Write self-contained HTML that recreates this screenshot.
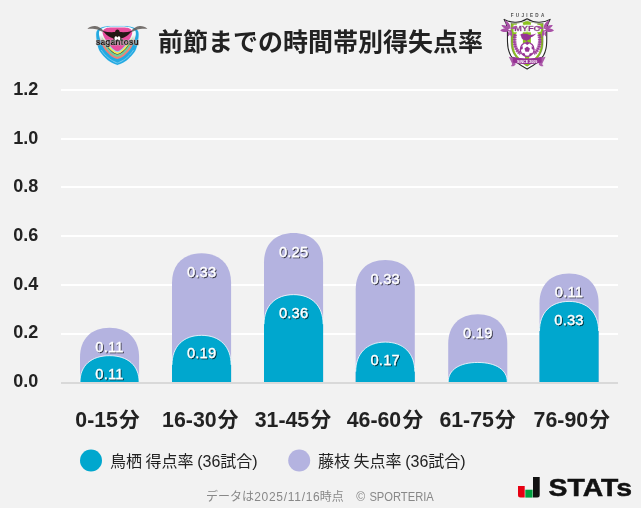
<!DOCTYPE html>
<html lang="ja"><head><meta charset="utf-8"><title>前節までの時間帯別得失点率</title>
<style>html,body{margin:0;padding:0;background:#f2f2f2;}body{width:641px;height:508px;overflow:hidden;font-family:"Liberation Sans", "Noto Sans CJK JP", sans-serif;}svg{display:block;}text{font-family:"Liberation Sans", "Noto Sans CJK JP", sans-serif;}
.ax{font-weight:700;font-size:18px;fill:#222;}.cat{font-weight:700;font-size:21.3px;fill:#222;}.dl{font-weight:400;font-size:14.6px;letter-spacing:0.25px;fill:#fff;stroke:#fff;stroke-width:0.28px;text-anchor:middle;}
.ttl{font-weight:700;font-size:25px;fill:#222;}.lg{font-size:16px;fill:#222;word-spacing:-0.85px;}.ft{font-size:12px;fill:#888;}
</style></head><body>
<svg width="641" height="508" viewBox="0 0 641 508">
<defs><filter id="sh" x="-20%" y="-20%" width="140%" height="150%"><feDropShadow dx="1" dy="1" stdDeviation="0.55" flood-color="#000" flood-opacity="0.7"/></filter>
<clipPath id="cp"><rect x="0" y="0" width="641" height="382"/></clipPath></defs>
<rect width="641" height="508" fill="#f2f2f2"/>
<rect x="61" y="333" width="557" height="2" fill="#fff"/>
<rect x="61" y="284" width="557" height="2" fill="#fff"/>
<rect x="61" y="235" width="557" height="2" fill="#fff"/>
<rect x="61" y="186" width="557" height="2" fill="#fff"/>
<rect x="61" y="138" width="557" height="2" fill="#fff"/>
<rect x="61" y="89" width="557" height="2" fill="#fff"/>
<rect x="61" y="382" width="557" height="2" fill="#d9d9d9"/>
<text class="ax" x="13.2" y="386.9">0.0</text>
<text class="ax" x="13.2" y="338.3">0.2</text>
<text class="ax" x="13.2" y="289.7">0.4</text>
<text class="ax" x="13.2" y="241.1">0.6</text>
<text class="ax" x="13.2" y="192.4">0.8</text>
<text class="ax" x="13.2" y="143.8">1.0</text>
<text class="ax" x="13.2" y="95.2">1.2</text>
<g clip-path="url(#cp)">
<path d="M80.00 390 V357.41 C80.00 339.08 91.23 327.86 109.55 327.86 C127.87 327.86 139.10 339.08 139.10 357.41 V390 Z" fill="#b4b3e0"/>
<path d="M80.00 390 V382.00 C80.00 365.68 91.23 355.68 109.55 355.68 C127.87 355.68 139.10 365.68 139.10 382.00 V390 Z" fill="#00a7ce"/>
<path d="M80.00 382.00 C80.00 365.68 91.23 355.68 109.55 355.68 C127.87 355.68 139.10 365.68 139.10 382.00" fill="none" stroke="#fff" stroke-opacity="0.8" stroke-width="1"/>
<path d="M172.00 390 V282.82 C172.00 264.50 183.23 253.27 201.55 253.27 C219.87 253.27 231.10 264.50 231.10 282.82 V390 Z" fill="#b4b3e0"/>
<path d="M172.00 390 V364.89 C172.00 346.57 183.23 335.34 201.55 335.34 C219.87 335.34 231.10 346.57 231.10 364.89 V390 Z" fill="#00a7ce"/>
<path d="M172.00 364.89 C172.00 346.57 183.23 335.34 201.55 335.34 C219.87 335.34 231.10 346.57 231.10 364.89" fill="none" stroke="#fff" stroke-opacity="0.8" stroke-width="1"/>
<path d="M264.00 390 V262.48 C264.00 244.16 275.23 232.93 293.55 232.93 C311.87 232.93 323.10 244.16 323.10 262.48 V390 Z" fill="#b4b3e0"/>
<path d="M264.00 390 V324.20 C264.00 305.88 275.23 294.65 293.55 294.65 C311.87 294.65 323.10 305.88 323.10 324.20 V390 Z" fill="#00a7ce"/>
<path d="M264.00 324.20 C264.00 305.88 275.23 294.65 293.55 294.65 C311.87 294.65 323.10 305.88 323.10 324.20" fill="none" stroke="#fff" stroke-opacity="0.8" stroke-width="1"/>
<path d="M355.70 390 V289.60 C355.70 271.28 366.93 260.05 385.25 260.05 C403.57 260.05 414.80 271.28 414.80 289.60 V390 Z" fill="#b4b3e0"/>
<path d="M355.70 390 V371.67 C355.70 353.35 366.93 342.12 385.25 342.12 C403.57 342.12 414.80 353.35 414.80 371.67 V390 Z" fill="#00a7ce"/>
<path d="M355.70 371.67 C355.70 353.35 366.93 342.12 385.25 342.12 C403.57 342.12 414.80 353.35 414.80 371.67" fill="none" stroke="#fff" stroke-opacity="0.8" stroke-width="1"/>
<path d="M448.20 390 V343.84 C448.20 325.52 459.43 314.29 477.75 314.29 C496.07 314.29 507.30 325.52 507.30 343.84 V390 Z" fill="#b4b3e0"/>
<path d="M448.20 390 V382.00 C448.20 369.88 459.43 362.46 477.75 362.46 C496.07 362.46 507.30 369.88 507.30 382.00 V390 Z" fill="#00a7ce"/>
<path d="M448.20 382.00 C448.20 369.88 459.43 362.46 477.75 362.46 C496.07 362.46 507.30 369.88 507.30 382.00" fill="none" stroke="#fff" stroke-opacity="0.8" stroke-width="1"/>
<path d="M539.50 390 V303.16 C539.50 284.84 550.73 273.61 569.05 273.61 C587.37 273.61 598.60 284.84 598.60 303.16 V390 Z" fill="#b4b3e0"/>
<path d="M539.50 390 V330.98 C539.50 312.66 550.73 301.43 569.05 301.43 C587.37 301.43 598.60 312.66 598.60 330.98 V390 Z" fill="#00a7ce"/>
<path d="M539.50 330.98 C539.50 312.66 550.73 301.43 569.05 301.43 C587.37 301.43 598.60 312.66 598.60 330.98" fill="none" stroke="#fff" stroke-opacity="0.8" stroke-width="1"/>
</g>
<g filter="url(#sh)">
<text class="dl" x="109.5" y="351.7">0.11</text>
<text class="dl" x="109.5" y="378.8">0.11</text>
<text class="dl" x="201.6" y="277.1">0.33</text>
<text class="dl" x="201.6" y="358.4">0.19</text>
<text class="dl" x="293.6" y="256.7">0.25</text>
<text class="dl" x="293.6" y="317.8">0.36</text>
<text class="dl" x="385.2" y="283.9">0.33</text>
<text class="dl" x="385.2" y="365.2">0.17</text>
<text class="dl" x="477.8" y="338.1">0.19</text>
<text class="dl" x="569.0" y="297.4">0.11</text>
<text class="dl" x="569.0" y="324.5">0.33</text>
</g>
<text class="cat" x="75.30" y="427.4"><tspan style="font-size:22.3px" textLength="42.6" lengthAdjust="spacingAndGlyphs">0-15</tspan><tspan style="font-size:20.7px" dx="1.2">分</tspan></text>
<text class="cat" x="162.10" y="427.4"><tspan style="font-size:22.3px" textLength="54.5" lengthAdjust="spacingAndGlyphs">16-30</tspan><tspan style="font-size:20.7px" dx="1.2">分</tspan></text>
<text class="cat" x="254.70" y="427.4"><tspan style="font-size:22.3px" textLength="54.5" lengthAdjust="spacingAndGlyphs">31-45</tspan><tspan style="font-size:20.7px" dx="1.2">分</tspan></text>
<text class="cat" x="346.70" y="427.4"><tspan style="font-size:22.3px" textLength="54.5" lengthAdjust="spacingAndGlyphs">46-60</tspan><tspan style="font-size:20.7px" dx="1.2">分</tspan></text>
<text class="cat" x="439.40" y="427.4"><tspan style="font-size:22.3px" textLength="54.5" lengthAdjust="spacingAndGlyphs">61-75</tspan><tspan style="font-size:20.7px" dx="1.2">分</tspan></text>
<text class="cat" x="533.60" y="427.4"><tspan style="font-size:22.3px" textLength="54.5" lengthAdjust="spacingAndGlyphs">76-90</tspan><tspan style="font-size:20.7px" dx="1.2">分</tspan></text>
<text class="ttl" x="320.5" y="51" text-anchor="middle">前節までの時間帯別得失点率</text>
<circle cx="91" cy="460.5" r="11" fill="#00a7ce"/>
<text class="lg" x="110" y="467">鳥栖 得点率 (36試合)</text>
<circle cx="299.2" cy="460.5" r="11" fill="#b4b3e0"/>
<text class="lg" x="318" y="467">藤枝 失点率 (36試合)</text>
<text class="ft" y="501.3"><tspan x="206">データは</tspan><tspan x="254.2" textLength="65.6" lengthAdjust="spacing">2025/11/16</tspan><tspan x="319.8">時点</tspan><tspan x="343.8">　</tspan><tspan x="356.2">©</tspan><tspan x="369.4" textLength="64.4" lengthAdjust="spacingAndGlyphs">SPORTERIA</tspan></text>
<g id="tosu">
<defs><filter id="thalo" x="-5%" y="-30%" width="110%" height="160%"><feMorphology in="SourceAlpha" operator="dilate" radius="0.4" result="d"/><feFlood flood-color="#fff"/><feComposite in2="d" operator="in" result="h"/><feMerge><feMergeNode in="h"/><feMergeNode in="SourceGraphic"/></feMerge></filter><linearGradient id="tg1" gradientUnits="userSpaceOnUse" x1="0" y1="35" x2="0" y2="45"><stop offset="0" stop-color="#f4fafd"/><stop offset="1" stop-color="#f07f78"/></linearGradient><linearGradient id="tg2" gradientUnits="userSpaceOnUse" x1="0" y1="35" x2="0" y2="45"><stop offset="0" stop-color="#f4fafd"/><stop offset="1" stop-color="#6ccf9e"/></linearGradient><linearGradient id="tg3" gradientUnits="userSpaceOnUse" x1="0" y1="35" x2="0" y2="45"><stop offset="0" stop-color="#f4fafd"/><stop offset="1" stop-color="#4a3a30"/></linearGradient><linearGradient id="tg4" gradientUnits="userSpaceOnUse" x1="0" y1="35" x2="0" y2="45"><stop offset="0" stop-color="#f4fafd"/><stop offset="1" stop-color="#f6ec52"/></linearGradient><linearGradient id="tg5" gradientUnits="userSpaceOnUse" x1="0" y1="35" x2="0" y2="45"><stop offset="0" stop-color="#f4fafd"/><stop offset="1" stop-color="#8fd6f4"/></linearGradient></defs>
<path d="M117.40 26.00 C114.27 26.00 110.73 26.00 108.00 26.30 C105.27 26.60 102.80 27.10 101.00 27.80 C99.20 28.50 98.00 29.38 97.20 30.50 C96.40 31.62 96.28 32.92 96.20 34.50 C96.12 36.08 96.43 38.08 96.70 40.00 C96.97 41.92 97.20 44.00 97.80 46.00 C98.40 48.00 98.83 49.82 100.30 52.00 C101.77 54.18 104.73 57.33 106.60 59.10 C108.47 60.87 109.70 61.62 111.50 62.60 C113.30 63.58 116.42 64.60 117.40 65.00 C118.38 64.60 121.50 63.58 123.30 62.60 C125.10 61.62 126.33 60.87 128.20 59.10 C130.07 57.33 133.03 54.18 134.50 52.00 C135.97 49.82 136.40 48.00 137.00 46.00 C137.60 44.00 137.83 41.92 138.10 40.00 C138.37 38.08 138.68 36.08 138.60 34.50 C138.52 32.92 138.40 31.62 137.60 30.50 C136.80 29.38 135.60 28.50 133.80 27.80 C132.00 27.10 129.53 26.60 126.80 26.30 C124.07 26.00 120.53 26.00 117.40 26.00 Z" fill="#cfeaf8" stroke="#cfeaf8" stroke-width="0.8"/>
<path d="M117.40 26.00 C114.27 26.00 110.73 26.00 108.00 26.30 C105.27 26.60 102.80 27.10 101.00 27.80 C99.20 28.50 98.00 29.38 97.20 30.50 C96.40 31.62 96.28 32.92 96.20 34.50 C96.12 36.08 96.43 38.08 96.70 40.00 C96.97 41.92 97.20 44.00 97.80 46.00 C98.40 48.00 98.83 49.82 100.30 52.00 C101.77 54.18 104.73 57.33 106.60 59.10 C108.47 60.87 109.70 61.62 111.50 62.60 C113.30 63.58 116.42 64.60 117.40 65.00 C118.38 64.60 121.50 63.58 123.30 62.60 C125.10 61.62 126.33 60.87 128.20 59.10 C130.07 57.33 133.03 54.18 134.50 52.00 C135.97 49.82 136.40 48.00 137.00 46.00 C137.60 44.00 137.83 41.92 138.10 40.00 C138.37 38.08 138.68 36.08 138.60 34.50 C138.52 32.92 138.40 31.62 137.60 30.50 C136.80 29.38 135.60 28.50 133.80 27.80 C132.00 27.10 129.53 26.60 126.80 26.30 C124.07 26.00 120.53 26.00 117.40 26.00 Z" fill="#23a9e1"/>
<path d="M117.40 26.60 C114.55 26.60 111.27 26.62 108.86 26.86 C106.45 27.10 104.45 27.47 102.94 28.06 C101.42 28.64 100.44 29.40 99.78 30.37 C99.12 31.34 98.93 32.43 98.95 33.86 C98.98 35.28 99.44 37.20 99.93 38.93 C100.41 40.65 101.04 42.43 101.84 44.19 C102.64 45.96 103.41 47.70 104.73 49.51 C106.05 51.31 108.35 53.68 109.78 55.02 C111.22 56.35 112.08 56.84 113.35 57.53 C114.62 58.21 116.72 58.85 117.40 59.11 C118.08 58.85 120.18 58.21 121.45 57.53 C122.72 56.84 123.58 56.35 125.02 55.02 C126.45 53.68 128.75 51.31 130.07 49.51 C131.39 47.70 132.16 45.96 132.96 44.19 C133.76 42.43 134.39 40.65 134.88 38.93 C135.36 37.20 135.82 35.28 135.85 33.86 C135.87 32.43 135.68 31.34 135.02 30.37 C134.36 29.40 133.38 28.64 131.87 28.06 C130.35 27.47 128.35 27.10 125.94 26.86 C123.53 26.62 120.25 26.60 117.40 26.60 Z" fill="url(#tg1)"/>
<path d="M117.40 26.82 C114.66 26.82 111.46 26.84 109.17 27.06 C106.87 27.28 105.04 27.61 103.63 28.15 C102.22 28.69 101.32 29.41 100.70 30.32 C100.09 31.24 99.87 32.25 99.94 33.62 C100.00 34.99 100.52 36.89 101.08 38.54 C101.64 40.19 102.42 41.87 103.29 43.55 C104.16 45.23 105.04 46.95 106.32 48.61 C107.59 50.28 109.64 52.37 110.92 53.55 C112.20 54.73 112.93 55.13 114.01 55.71 C115.09 56.28 116.84 56.78 117.40 57.00 C117.96 56.78 119.71 56.28 120.79 55.71 C121.87 55.13 122.60 54.73 123.88 53.55 C125.16 52.37 127.21 50.28 128.48 48.61 C129.76 46.95 130.64 45.23 131.51 43.55 C132.38 41.87 133.16 40.19 133.72 38.54 C134.28 36.89 134.80 34.99 134.86 33.62 C134.93 32.25 134.71 31.24 134.10 30.32 C133.48 29.41 132.58 28.69 131.17 28.15 C129.76 27.61 127.93 27.28 125.63 27.06 C123.34 26.84 120.14 26.82 117.40 26.82 Z" fill="url(#tg2)"/>
<path d="M117.40 27.04 C114.76 27.04 111.66 27.07 109.49 27.27 C107.32 27.47 105.66 27.75 104.35 28.25 C103.05 28.75 102.23 29.42 101.67 30.28 C101.11 31.13 100.87 32.07 100.97 33.38 C101.07 34.69 101.65 36.56 102.29 38.14 C102.93 39.72 103.86 41.28 104.80 42.87 C105.75 44.46 106.76 46.15 107.97 47.68 C109.19 49.20 110.99 51.00 112.11 52.02 C113.23 53.04 113.82 53.35 114.70 53.81 C115.58 54.27 116.95 54.63 117.40 54.79 C117.85 54.63 119.22 54.27 120.10 53.81 C120.98 53.35 121.57 53.04 122.69 52.02 C123.81 51.00 125.61 49.20 126.83 47.68 C128.04 46.15 129.05 44.46 130.00 42.87 C130.94 41.28 131.87 39.72 132.51 38.14 C133.15 36.56 133.73 34.69 133.83 33.38 C133.93 32.07 133.69 31.13 133.13 30.28 C132.57 29.42 131.75 28.75 130.45 28.25 C129.14 27.75 127.48 27.47 125.31 27.27 C123.14 27.07 120.04 27.04 117.40 27.04 Z" fill="url(#tg3)"/>
<path d="M117.40 27.11 C114.79 27.11 111.72 27.13 109.58 27.33 C107.44 27.52 105.83 27.78 104.55 28.27 C103.28 28.76 102.49 29.42 101.94 30.26 C101.39 31.10 101.14 32.02 101.26 33.31 C101.37 34.61 101.96 36.46 102.63 38.02 C103.29 39.59 104.26 41.12 105.23 42.68 C106.19 44.25 107.23 45.93 108.44 47.42 C109.64 48.90 111.37 50.62 112.45 51.59 C113.52 52.57 114.07 52.85 114.90 53.28 C115.72 53.71 116.98 54.03 117.40 54.18 C117.82 54.03 119.08 53.71 119.90 53.28 C120.73 52.85 121.28 52.57 122.35 51.59 C123.43 50.62 125.16 48.90 126.36 47.42 C127.57 45.93 128.61 44.25 129.57 42.68 C130.54 41.12 131.51 39.59 132.18 38.02 C132.84 36.46 133.43 34.61 133.54 33.31 C133.66 32.02 133.41 31.10 132.86 30.26 C132.31 29.42 131.52 28.76 130.25 28.27 C128.97 27.78 127.36 27.52 125.22 27.33 C123.08 27.13 120.01 27.11 117.40 27.11 Z" fill="url(#tg4)"/>
<path d="M117.40 27.29 C114.88 27.29 111.88 27.32 109.84 27.50 C107.80 27.67 106.33 27.90 105.14 28.35 C103.95 28.81 103.23 29.43 102.72 30.22 C102.21 31.02 101.94 31.87 102.09 33.12 C102.23 34.37 102.87 36.20 103.60 37.70 C104.33 39.20 105.42 40.64 106.45 42.14 C107.48 43.63 108.62 45.29 109.78 46.66 C110.94 48.03 112.46 49.51 113.41 50.36 C114.35 51.21 114.79 51.40 115.46 51.74 C116.12 52.08 117.08 52.29 117.40 52.40 C117.72 52.29 118.68 52.08 119.34 51.74 C120.01 51.40 120.45 51.21 121.39 50.36 C122.34 49.51 123.86 48.03 125.02 46.66 C126.18 45.29 127.32 43.63 128.35 42.14 C129.38 40.64 130.47 39.20 131.20 37.70 C131.93 36.20 132.57 34.37 132.71 33.12 C132.86 31.87 132.59 31.02 132.08 30.22 C131.57 29.43 130.85 28.81 129.66 28.35 C128.47 27.90 127.00 27.67 124.96 27.50 C122.92 27.32 119.92 27.29 117.40 27.29 Z" fill="url(#tg5)"/>
<path d="M117.40 27.40 C114.93 27.40 111.98 27.43 110.00 27.60 C108.02 27.77 106.63 27.97 105.50 28.40 C104.37 28.83 103.68 29.43 103.20 30.20 C102.72 30.97 102.43 31.78 102.60 33.00 C102.77 34.22 103.43 36.03 104.20 37.50 C104.97 38.97 106.13 40.35 107.20 41.80 C108.27 43.25 109.47 44.90 110.60 46.20 C111.73 47.50 113.13 48.83 114.00 49.60 C114.87 50.37 115.23 50.52 115.80 50.80 C116.37 51.08 117.13 51.22 117.40 51.30 C117.67 51.22 118.43 51.08 119.00 50.80 C119.57 50.52 119.93 50.37 120.80 49.60 C121.67 48.83 123.07 47.50 124.20 46.20 C125.33 44.90 126.53 43.25 127.60 41.80 C128.67 40.35 129.83 38.97 130.60 37.50 C131.37 36.03 132.03 34.22 132.20 33.00 C132.37 31.78 132.08 30.97 131.60 30.20 C131.12 29.43 130.43 28.83 129.30 28.40 C128.17 27.97 126.78 27.77 124.80 27.60 C122.82 27.43 119.87 27.40 117.40 27.40 Z" fill="#e94f9e"/>
<path d="M101.6 50.5 C105.5 56.5 111.5 61 117.4 63 C123.3 61 129.3 56.5 133.2 50.500" fill="none" stroke="#d8f0fb" stroke-width="1" stroke-dasharray="0.7 0.6" opacity="0.8"/>
<path d="M87.4 28.9 C89.4 26.9 92.4 25.9 95.2 26.1 C98.6 26.4 101.6 28.4 104 31.4 C103 31.8 102 31.7 101.2 31.2 C99.2 29.9 97 29.1 94.6 28.9 C92 28.700 89.600 28.700 87.400 28.900 Z" fill="#5f5956" opacity="0.85"/>
<path d="M147.400 28.900 C145.400 26.900 142.400 25.900 139.600 26.100 C136.200 26.400 133.200 28.400 130.800 31.400 C131.800 31.800 132.800 31.700 133.600 31.200 C135.600 29.900 137.800 29.100 140.200 28.900 C142.800 28.700 145.200 28.700 147.400 28.900 Z" fill="#5f5956" opacity="0.85"/>
<path d="M117.400 29.500 C118.700 29.500 119.600 30.500 119.700 32 C123.600 32.400 128 32.100 132 30.900 C129.800 33.400 127.200 36 124 37.400 C123 37.900 122 38.200 121.400 38.400 L121 40.800 L117.400 42 L113.800 40.800 L113.400 38.400 C112.800 38.200 111.800 37.900 110.800 37.400 C107.600 36 105 33.400 102.800 30.900 C106.800 32.100 111.200 32.400 115.100 32 C115.200 30.500 116.100 29.500 117.400 29.500 Z" fill="#231815"/>
<path d="M114.600 37.200 C115.200 36 116.600 36 117.400 37.400 C118.200 36 119.600 36 120.200 37.200 C120.600 38.600 120.200 40 119.400 40.800 L117.400 39.200 L115.400 40.800 C114.600 40 114.200 38.600 114.600 37.200 Z" fill="#fff"/>
<text x="117.2" y="45" text-anchor="middle" textLength="43" lengthAdjust="spacingAndGlyphs" filter="url(#thalo)" style="font-family:'Liberation Sans',sans-serif;font-weight:700;font-size:9.9px;fill:#231815;stroke:#231815;stroke-width:0.7px;stroke-linejoin:round">sagantosu</text>
</g>
<g id="myfc">
<defs>
<filter id="mhalo" x="-5%" y="-30%" width="110%" height="160%"><feMorphology in="SourceAlpha" operator="dilate" radius="0.8" result="d"/><feFlood flood-color="#fff"/><feComposite in2="d" operator="in" result="h"/><feMerge><feMergeNode in="h"/><feMergeNode in="SourceGraphic"/></feMerge></filter>
<clipPath id="mfield"><path d="M511 23.200 C514 24 520.500 23.800 527.100 20.900 C533.700 23.800 540.200 24 543.200 23.200 C543 29 543.100 36 543.100 42 C543.100 46.500 542.300 50.500 540.400 54 C537.800 58.800 533 62.700 527.100 66.300 C521.200 62.700 516.400 58.800 513.800 54 C511.900 50.500 511.100 46.500 511.100 42 C511.100 36 511.200 29 511 23.200 Z"/></clipPath>
</defs>
<text x="527.5" y="17" text-anchor="middle" textLength="33.6" lengthAdjust="spacing" style="font-family:'Liberation Sans',sans-serif;font-weight:700;font-size:4.6px;fill:#4d4d4d">FUJIEDA</text>
<path d="M504.100 19.400 C507.500 21.400 512 22.400 516 22.200 C520 22 524 20.800 527.100 18.700 C530.200 20.800 534.200 22 538.200 22.200 C542.200 22.400 546.700 21.400 550.100 19.400 C548.400 22 547 25.500 546.800 29 C546.700 33 546.800 38 546.700 42 C546.600 47 545.700 51.500 543.500 55.500 C540.300 61 534.500 65 527.100 69.100 C519.700 65 513.900 61 510.700 55.500 C508.500 51.500 507.600 47 507.500 42 C507.400 38 507.500 33 507.400 29 C507.200 25.500 505.800 22 504.100 19.400 Z" fill="#fff" stroke="#262626" stroke-width="1.1" stroke-linejoin="round"/>
<path d="M511 23.200 C514 24 520.500 23.800 527.100 20.900 C533.700 23.800 540.200 24 543.200 23.200 C543 29 543.100 36 543.100 42 C543.100 46.500 542.300 50.500 540.400 54 C537.800 58.800 533 62.700 527.100 66.300 C521.200 62.700 516.400 58.800 513.800 54 C511.900 50.500 511.100 46.500 511.100 42 C511.100 36 511.200 29 511 23.200 Z" fill="#8cc220" stroke="#4a4a4a" stroke-width="0.4"/>
<g clip-path="url(#mfield)">
<path d="M516.800 18 L516.800 33 C515 35 513.700 37.500 513.400 40 C513.100 44 513.300 47.500 514.600 51 C516.600 56.500 521.500 60.500 527.100 64 C532.700 60.500 537.600 56.500 539.600 51 C540.900 47.500 541.100 44 540.800 40 C540.500 37.500 539.200 35 537.400 33 L537.400 18 Z" fill="#fff"/>
<rect x="522.900" y="18" width="8" height="25" fill="#8cc220"/>
<rect x="525" y="56" width="4.200" height="12" fill="#8cc220"/>
</g>
<text x="527.200" y="31.300" text-anchor="middle" textLength="26" lengthAdjust="spacingAndGlyphs" filter="url(#mhalo)" style="font-family:'Liberation Sans',sans-serif;font-weight:700;font-size:7.8px;fill:#8f2b8d;stroke:#8f2b8d;stroke-width:0.35px">MYFC</text>
<!-- bird -->
<path d="M519.300 35.100 L520.900 34.600 C521.500 33.600 522.800 33.300 523.800 33.900 C525.600 33.500 527.800 33.900 529.400 35 C532 34.900 534.600 34.200 536.600 33.200 C534.900 35.200 532.800 36.500 530.900 37.300 C530.500 39.100 528.800 40.300 526.600 40.400 L528.200 42.300 L527.400 42.500 L525.800 40.500 C523.300 40.200 521.500 38.700 521.200 36.700 C521.100 36.100 520.900 35.600 520.700 35.300 Z" fill="#973395"/>
<!-- laurels -->
<g fill="none" stroke="#973395">
<path d="M515.200 34.300 C514.300 38.500 514.300 43 515.400 46.500 C516.300 49.500 518.200 52 520.600 53.800" stroke-width="2" opacity="0.7"/>
<path d="M515.200 34.300 C514.300 38.500 514.300 43 515.400 46.500 C516.300 49.500 518.200 52 520.600 53.800" stroke-width="3.800" stroke-dasharray="1.600 0.700" opacity="0.8"/>
<path d="M539.200 34.300 C540.100 38.500 540.100 43 539 46.500 C538.100 49.500 536.200 52 533.800 53.800" stroke-width="2" opacity="0.7"/>
<path d="M539.200 34.300 C540.100 38.500 540.100 43 539 46.500 C538.100 49.500 536.200 52 533.800 53.800" stroke-width="3.800" stroke-dasharray="1.600 0.700" opacity="0.8"/>
</g>
<!-- ball -->
<circle cx="527.200" cy="49.400" r="6.900" fill="#fff" stroke="#973395" stroke-width="1.200"/>
<path d="M527.200 46.600 L529.900 48.600 L528.900 51.700 L525.500 51.700 L524.500 48.600 Z" fill="#973395"/>
<path d="M527.200 42.600 L529.600 43.300 L527.200 45 L524.800 43.300 Z M533.700 47 L534 50 L531.700 48.900 L531.600 46.200 Z M520.700 47 L522.800 46.200 L522.700 48.900 L520.400 50 Z M531.500 55 L529 56.100 L529.500 53.600 L532 52.800 Z M522.900 55 L522.400 52.800 L524.900 53.600 L525.400 56.100 Z" fill="#973395"/>
<!-- ribbon -->
<path d="M508.800 56.800 L514.400 58 L515.600 64.400 C514.600 66 512.800 66.600 510.800 66 C512 65.200 512.400 64 511.800 63 Z M545.600 56.800 L540 58 L538.800 64.400 C539.800 66 541.600 66.600 543.600 66 C542.400 65.200 542 64 542.600 63 Z" fill="#ad5cab"/>
<path d="M512.800 56.800 C517.500 58 522.300 58.500 527.200 58.500 C532.100 58.500 536.900 58 541.600 56.800 L541.600 62.400 C536.900 63.600 532.100 64.100 527.200 64.100 C522.300 64.100 517.500 63.600 512.800 62.400 Z" fill="#973395"/>
<text x="527.200" y="62.500" text-anchor="middle" textLength="20.500" lengthAdjust="spacingAndGlyphs" style="font-family:'Liberation Sans',sans-serif;font-weight:700;font-size:3.400px;fill:#fff">SINCE 2009</text>
<!-- wisteria leaves -->
<g fill="#a850a6">
<path d="M510.600 29 C507.600 27.400 505.400 24 504.800 20 C508.400 21.600 510.800 25 510.600 29 Z M509.800 30.200 C506.800 28 503 28 500.200 30.400 C503.400 32.600 507.400 32.400 509.800 30.200 Z M510 28.800 C507.400 25.800 504 24.800 501.400 25.200 C502.800 28.200 506.400 29.800 510 28.800 Z M510.200 29.600 C512.200 31.600 512.800 34.400 511.800 37 C509.600 35.200 509 32.200 510.200 29.600 Z M510.800 28.600 C512.600 26.400 515.200 25.600 517.400 26.400 C516 28.800 513.200 29.600 510.800 28.600 Z M509.600 30.200 C507.800 32 507.400 34.400 508.400 36.400 C510.200 34.800 510.800 32.400 509.600 30.200 Z"/>
<path d="M543.600 29 C546.600 27.400 548.800 24 549.400 20 C545.800 21.600 543.400 25 543.600 29 Z M544.400 30.200 C547.400 28 551.200 28 554 30.400 C550.800 32.600 546.800 32.400 544.400 30.200 Z M544.200 28.800 C546.800 25.800 550.200 24.800 552.800 25.200 C551.400 28.200 547.800 29.800 544.200 28.800 Z M544 29.600 C542 31.600 541.400 34.400 542.400 37 C544.600 35.200 545.200 32.200 544 29.600 Z M543.400 28.600 C541.600 26.400 539 25.600 536.800 26.400 C538.200 28.800 541 29.600 543.400 28.600 Z M544.600 30.200 C546.400 32 546.800 34.400 545.800 36.400 C544 34.800 543.400 32.400 544.600 30.200 Z"/>
</g>
</g>

<g id="stats"><path d="M518 486 h6.700 v11.600 h-4.200 a2.500 2.500 0 0 1 -2.500 -2.500 Z" fill="#e60012"/><rect x="525.300" y="489.700" width="7.300" height="7.900" fill="#00a040"/><path d="M533 477.100 h6.700 v18 a2.500 2.500 0 0 1 -2.500 2.500 h-4.200 Z" fill="#111"/>
<text x="548.6" y="496.3" textLength="83.4" lengthAdjust="spacingAndGlyphs" style="font-weight:700;font-size:24.8px;fill:#111;stroke:#111;stroke-width:0.5px">STATs</text></g>
</svg></body></html>
